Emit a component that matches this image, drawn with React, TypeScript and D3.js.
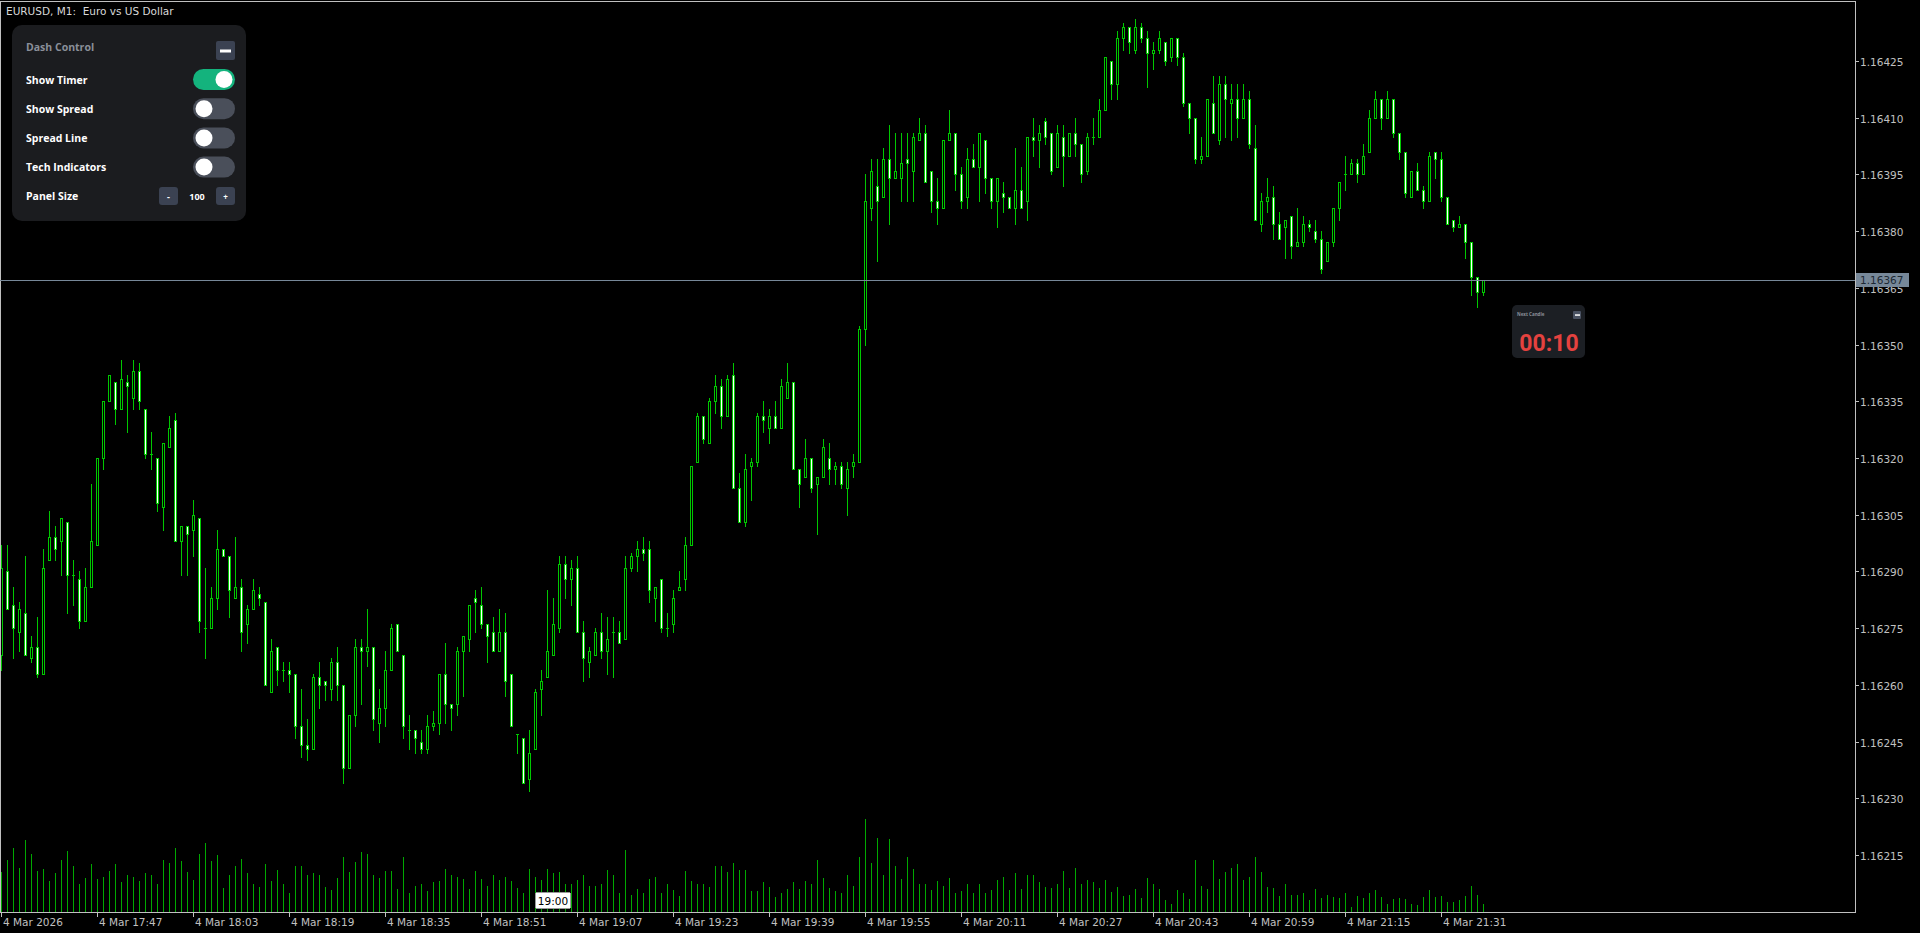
import React from 'react';
import * as d3 from 'd3';

const W = 1920;
const H = 933;

// EURUSD M1 bars, 4 Mar 17:31 .. 21:38
const OPEN = [1.16268,1.1629,1.16281,1.16274,1.16279,1.16267,1.1627,1.16263,1.16293,1.16299,1.16298,1.16303,1.16289,1.16288,1.16277,1.16286,1.16297,1.1632,1.16335,1.1634,1.16333,1.1634,1.16336,1.16343,1.16333,1.16321,1.1632,1.16307,1.16323,1.1633,1.16298,1.16302,1.16301,1.16304,1.16275,1.16275,1.16283,1.16296,1.16294,1.16283,1.16286,1.16276,1.1628,1.16284,1.16282,1.16258,1.1627,1.16264,1.16264,1.16263,1.16249,1.16244,1.16243,1.16262,1.16261,1.16259,1.16266,1.1626,1.16238,1.16252,1.1627,1.16269,1.1627,1.1625,1.16254,1.16264,1.16276,1.16268,1.16248,1.16248,1.16245,1.16243,1.16249,1.1625,1.16263,1.16255,1.16255,1.16269,1.16272,1.16283,1.16281,1.16276,1.16274,1.16269,1.16274,1.16263,1.16247,1.16246,1.16235,1.16243,1.16259,1.16262,1.16268,1.16275,1.16292,1.16288,1.16291,1.16274,1.16266,1.16268,1.16274,1.16269,1.16274,1.16274,1.16272,1.16291,1.16294,1.16296,1.16296,1.16283,1.16288,1.16275,1.16276,1.16285,1.16288,1.16297,1.16319,1.16331,1.16324,1.16335,1.16339,1.16331,1.16342,1.16312,1.16303,1.16318,1.16319,1.16331,1.16328,1.16331,1.16328,1.16336,1.1634,1.16317,1.16315,1.1632,1.16313,1.16315,1.1632,1.16317,1.16318,1.16312,1.16318,1.16319,1.16354,1.16386,1.16392,1.16389,1.16399,1.16394,1.16394,1.16399,1.16396,1.16404,1.16406,1.16396,1.16388,1.16386,1.16404,1.16406,1.16395,1.16389,1.16399,1.16397,1.16404,1.16394,1.16388,1.1639,1.16389,1.16386,1.16391,1.16388,1.16405,1.16404,1.16409,1.16406,1.16397,1.16405,1.164,1.16406,1.16403,1.16396,1.16405,1.16405,1.16412,1.16425,1.16419,1.16431,1.16434,1.16428,1.16434,1.16431,1.16427,1.16428,1.1643,1.16426,1.16431,1.16426,1.16414,1.1641,1.16399,1.164,1.16414,1.16404,1.16419,1.16414,1.16415,1.1641,1.16415,1.16402,1.16382,1.16388,1.16389,1.16382,1.16381,1.16384,1.16376,1.16377,1.16382,1.1638,1.16378,1.16372,1.16377,1.16386,1.16395,1.16395,1.16398,1.16395,1.16401,1.1641,1.16415,1.1641,1.16415,1.16406,1.16401,1.16389,1.16396,1.16391,1.16388,1.16401,1.16399,1.16389,1.16383,1.16381,1.16382,1.16377,1.16368,1.16364];
const HIGH = [1.16297,1.16297,1.16286,1.16282,1.16294,1.16273,1.16278,1.16296,1.16306,1.16302,1.16304,1.16303,1.16293,1.1629,1.16291,1.16313,1.1632,1.16335,1.16342,1.1634,1.16346,1.16342,1.16346,1.16345,1.16333,1.16327,1.1632,1.16324,1.16331,1.16332,1.16302,1.16302,1.16309,1.16304,1.16291,1.16286,1.16301,1.16296,1.16294,1.16299,1.16288,1.16281,1.16288,1.16286,1.16282,1.16272,1.1627,1.16266,1.16266,1.16263,1.16259,1.16251,1.16263,1.16266,1.16261,1.16267,1.1627,1.1626,1.16252,1.16272,1.16272,1.1628,1.1627,1.16259,1.16269,1.16276,1.16276,1.16268,1.16252,1.16248,1.16248,1.16252,1.16253,1.16263,1.16271,1.16255,1.1627,1.16273,1.16281,1.16285,1.16286,1.16276,1.16278,1.1628,1.16279,1.16263,1.16247,1.16246,1.16248,1.16259,1.16264,1.16285,1.16283,1.16294,1.16294,1.16293,1.16294,1.16277,1.1627,1.16275,1.16279,1.16278,1.16278,1.16277,1.16294,1.16295,1.16298,1.16299,1.16298,1.16286,1.16288,1.16279,1.16285,1.1629,1.16299,1.16318,1.16332,1.16331,1.16336,1.16342,1.16341,1.16342,1.16345,1.16316,1.16321,1.1632,1.16332,1.16335,1.16333,1.16335,1.16341,1.16345,1.1634,1.16317,1.16325,1.1632,1.16315,1.16325,1.16324,1.16319,1.16319,1.16319,1.16321,1.16355,1.16395,1.16399,1.16399,1.16402,1.16408,1.16406,1.16406,1.16406,1.16406,1.1641,1.16408,1.16396,1.16394,1.16404,1.16412,1.16406,1.16397,1.16402,1.16403,1.16406,1.16404,1.16394,1.16394,1.16393,1.16389,1.16402,1.16397,1.16405,1.1641,1.16408,1.1641,1.16406,1.16408,1.16408,1.16406,1.1641,1.16403,1.16406,1.1641,1.16415,1.16426,1.16425,1.16433,1.16435,1.16434,1.16436,1.16435,1.16433,1.1643,1.16433,1.1643,1.16431,1.16431,1.16427,1.16414,1.1641,1.16405,1.16415,1.16421,1.16421,1.16421,1.16419,1.16419,1.16419,1.16417,1.16408,1.1639,1.16394,1.16392,1.16385,1.16383,1.16384,1.16386,1.16384,1.16383,1.16383,1.1638,1.16377,1.16386,1.16393,1.164,1.16399,1.16399,1.16403,1.16412,1.16417,1.16415,1.16417,1.16415,1.16406,1.16401,1.16396,1.16398,1.16392,1.16401,1.16401,1.16401,1.16389,1.16383,1.16384,1.16382,1.16377,1.16368,1.16367];
const LOW = [1.16264,1.1628,1.16267,1.16269,1.16268,1.16266,1.16262,1.16263,1.16293,1.16293,1.16289,1.16279,1.16281,1.16275,1.16277,1.16286,1.16297,1.16317,1.16335,1.16329,1.16333,1.16327,1.16333,1.16333,1.1632,1.16317,1.16306,1.16301,1.16323,1.16298,1.16289,1.16289,1.16294,1.16274,1.16267,1.16275,1.1628,1.16294,1.16278,1.16283,1.16269,1.16271,1.1628,1.16281,1.1626,1.16258,1.1626,1.16261,1.16258,1.16246,1.16241,1.1624,1.16243,1.16254,1.16256,1.16256,1.16256,1.16234,1.16238,1.16249,1.16255,1.16265,1.16248,1.16245,1.16249,1.16264,1.16269,1.16246,1.16243,1.16242,1.16242,1.16242,1.16248,1.16247,1.1625,1.16248,1.16252,1.16257,1.16269,1.16274,1.16275,1.16266,1.16269,1.16269,1.16257,1.16249,1.16242,1.16234,1.16232,1.16243,1.16252,1.16262,1.16268,1.16274,1.16283,1.16281,1.16274,1.16261,1.16262,1.16268,1.16267,1.16263,1.16262,1.16271,1.16272,1.1629,1.1629,1.16293,1.16282,1.16277,1.16274,1.16273,1.16274,1.16285,1.16285,1.16297,1.16319,1.16324,1.16324,1.16332,1.16328,1.16331,1.16312,1.16303,1.16302,1.16309,1.16318,1.16327,1.16324,1.16328,1.16328,1.16336,1.16317,1.16307,1.16315,1.16311,1.163,1.16315,1.16313,1.16313,1.16312,1.16305,1.16315,1.16319,1.1635,1.16383,1.16372,1.16389,1.16382,1.16394,1.16388,1.16388,1.16388,1.16404,1.16393,1.16385,1.16382,1.16386,1.16404,1.16391,1.16386,1.16386,1.16397,1.16388,1.1639,1.16386,1.16381,1.16385,1.16386,1.16382,1.16386,1.16383,1.164,1.16397,1.16403,1.16395,1.16397,1.16392,1.164,1.164,1.16393,1.16395,1.16403,1.16405,1.16412,1.16415,1.16415,1.16428,1.16427,1.16427,1.1643,1.16418,1.16423,1.16427,1.16424,1.16425,1.16424,1.16413,1.16406,1.16398,1.16398,1.164,1.16406,1.16403,1.16405,1.16404,1.16405,1.1641,1.16402,1.16383,1.1638,1.16385,1.16378,1.16378,1.16373,1.16373,1.16376,1.16376,1.1638,1.16377,1.16369,1.16372,1.16376,1.16383,1.16391,1.16395,1.16393,1.16395,1.16401,1.1641,1.16407,1.1641,1.16405,1.16399,1.16389,1.16389,1.16391,1.16386,1.16388,1.16394,1.16388,1.16382,1.1638,1.16381,1.16373,1.16363,1.1636,1.16363];
const CLOSE = [1.16291,1.1628,1.16275,1.1628,1.16268,1.1627,1.16263,1.16291,1.16299,1.16296,1.16304,1.16289,1.16289,1.16277,1.16286,1.16298,1.1632,1.16335,1.16342,1.16333,1.16341,1.16339,1.16343,1.16335,1.16321,1.16321,1.16308,1.16324,1.16328,1.16298,1.16302,1.163,1.16305,1.16277,1.16275,1.16283,1.16296,1.16294,1.16285,1.16286,1.16274,1.1628,1.16285,1.16283,1.1626,1.16269,1.16264,1.16264,1.16263,1.16249,1.16244,1.16243,1.16262,1.1626,1.1626,1.16266,1.1626,1.16238,1.16252,1.1627,1.16269,1.1627,1.16251,1.16254,1.16264,1.16275,1.16269,1.16249,1.16248,1.16246,1.16243,1.16249,1.1625,1.16263,1.16255,1.16254,1.16269,1.16273,1.16281,1.16282,1.16276,1.16273,1.16269,1.16274,1.16261,1.16249,1.16247,1.16234,1.16242,1.16258,1.16261,1.16269,1.16276,1.16292,1.16288,1.16291,1.16274,1.16267,1.16269,1.16274,1.16269,1.16272,1.16274,1.16271,1.16291,1.16294,1.16296,1.16295,1.16285,1.16286,1.16275,1.16275,1.16283,1.16286,1.16297,1.16318,1.16331,1.16325,1.16335,1.16339,1.16331,1.16341,1.16312,1.16303,1.16317,1.16319,1.16331,1.1633,1.16331,1.16328,1.16339,1.1634,1.16317,1.16313,1.1632,1.16312,1.16315,1.16323,1.16317,1.16318,1.16313,1.16317,1.16319,1.16354,1.16388,1.16396,1.16388,1.16399,1.16394,1.16396,1.16398,1.16398,1.16405,1.16406,1.16393,1.16388,1.16386,1.16404,1.16406,1.16395,1.16388,1.16399,1.16397,1.16406,1.16394,1.16388,1.16394,1.16389,1.16386,1.16391,1.16386,1.16405,1.16404,1.16406,1.16405,1.16396,1.16406,1.164,1.16406,1.16403,1.16395,1.16405,1.16405,1.16412,1.16426,1.16419,1.16431,1.16434,1.1643,1.16434,1.16431,1.16427,1.16428,1.16431,1.16425,1.16431,1.16426,1.16414,1.1641,1.16399,1.164,1.16415,1.16406,1.16419,1.16415,1.16415,1.1641,1.16415,1.16403,1.16383,1.16388,1.16389,1.16382,1.16378,1.16383,1.16376,1.16377,1.16382,1.16381,1.16378,1.1637,1.16377,1.16386,1.16393,1.16395,1.16398,1.16395,1.164,1.1641,1.16415,1.1641,1.16415,1.16406,1.16401,1.1639,1.16396,1.16391,1.16388,1.164,1.16399,1.16389,1.16382,1.16381,1.16382,1.16377,1.16368,1.16364,1.16367];
const VOLUME = [120,156,191,132,215,173,123,130,92,117,156,183,137,85,103,144,99,105,123,143,89,112,105,93,117,111,84,156,147,191,153,121,96,173,207,153,171,72,112,139,160,117,84,76,144,93,126,84,58,139,139,112,117,111,75,65,103,166,119,150,180,173,112,102,123,123,70,165,58,79,84,63,90,93,130,112,106,99,70,123,99,79,111,96,106,93,72,58,130,106,96,130,117,119,84,84,96,111,79,79,85,126,112,58,186,52,70,58,99,105,58,84,66,49,123,93,85,84,76,139,139,119,147,126,126,63,63,90,76,45,58,69,90,69,92,84,157,103,72,63,57,111,78,166,278,147,222,111,218,139,99,165,130,84,84,66,93,78,103,57,63,85,57,85,57,66,96,105,66,117,69,111,111,90,76,72,84,123,72,132,84,96,90,72,96,60,76,48,51,69,42,103,84,69,36,24,65,57,38,157,78,69,157,99,119,132,144,96,105,166,119,75,72,48,85,51,51,57,36,69,42,51,45,42,57,15,48,42,57,65,45,24,38,42,38,24,21,45,65,45,48,30,30,36,48,78,51,24];

const PRICE_TICKS = [1.16425,1.1641,1.16395,1.1638,1.16365,1.1635,1.16335,1.1632,1.16305,1.1629,1.16275,1.1626,1.16245,1.1623,1.16215];
const TIME_LABEL_BARS = [0,16,32,48,64,80,96,112,128,144,160,176,192,208,224,240];
const TIME_LABELS = ['4 Mar 2026','4 Mar 17:47','4 Mar 18:03','4 Mar 18:19','4 Mar 18:35','4 Mar 18:51','4 Mar 19:07','4 Mar 19:23','4 Mar 19:39','4 Mar 19:55','4 Mar 20:11','4 Mar 20:27','4 Mar 20:43','4 Mar 20:59','4 Mar 21:15','4 Mar 21:31'];
const LAST_PRICE = 1.16367;
const CURSOR_BAR = 89;
const CURSOR_LABEL = '19:00';
const TITLE = 'EURUSD, M1:  Euro vs US Dollar';
const PANEL_ROWS = ['Show Timer','Show Spread','Spread Line','Tech Indicators'];
const PANEL_ON = [true,false,false,false];

const PLOT_R = 1855;
const PLOT_B = 912;
const GREEN = '#00c800';
const VOL_GREEN = '#00a800';
const AXIS = '#c0c0c0';
const FONT = '"DejaVu Sans", Tahoma, sans-serif';
const UI_FONT = '"Open Sans", "Noto Sans", sans-serif';

export default function App() {
  const x = d3.scaleLinear().domain([0, OPEN.length - 1]).range([1.5, 1.5 + 6 * (OPEN.length - 1)]);
  const y = d3.scaleLinear().domain([1.16215, 1.16425]).range([855, 61]);
  const yv = d3.scaleLinear().domain([0, 300]).range([PLOT_B, PLOT_B - 100]);

  const candles = OPEN.map((o, i) => {
    const c = CLOSE[i];
    const cx = Math.round(x(i) - 0.5) + 0.5;
    const yH = Math.round(y(HIGH[i]));
    const yL = Math.round(y(LOW[i]));
    const yT = Math.round(y(Math.max(o, c)));
    const yB = Math.round(y(Math.min(o, c)));
    const bull = c > o;
    const doji = yB - yT < 1;
    return (
      <g key={i}>
        <line x1={cx} x2={cx} y1={yH} y2={yL + 1} stroke={GREEN} strokeWidth={1} />
        {doji ? (
          <line x1={cx - 1.5} x2={cx + 1.5} y1={yT + 0.5} y2={yT + 0.5} stroke={GREEN} strokeWidth={1} />
        ) : (
          <rect x={cx - 1} y={yT + 0.5} width={2} height={yB - yT} fill={bull ? '#000' : '#fff'} stroke={GREEN} strokeWidth={1} />
        )}
      </g>
    );
  });

  const vols = VOLUME.map((v, i) => {
    const cx = Math.round(x(i) - 0.5) + 0.5;
    return <line key={i} x1={cx} x2={cx} y1={PLOT_B} y2={Math.round(yv(v))} stroke={VOL_GREEN} strokeWidth={1} />;
  });

  const yLast = Math.round(y(LAST_PRICE)) + 0.5;
  const cursorX = Math.round(x(CURSOR_BAR) - 0.5);

  return (
    <svg width={W} height={H} style={{ display: 'block', position: 'absolute', left: 0, top: 0, background: '#000' }} shapeRendering="crispEdges">
      <rect x={0} y={0} width={W} height={H} fill="#000" />
      <g>{vols}</g>
      <g>{candles}</g>
      {/* frame */}
      <line x1={0.5} x2={0.5} y1={1} y2={PLOT_B} stroke={AXIS} />
      <line x1={0} x2={PLOT_R} y1={1.5} y2={1.5} stroke={AXIS} />
      <line x1={PLOT_R + 0.5} x2={PLOT_R + 0.5} y1={1} y2={PLOT_B + 1} stroke={AXIS} />
      <line x1={0} x2={PLOT_R + 1} y1={PLOT_B + 0.5} y2={PLOT_B + 0.5} stroke={AXIS} />
      {/* last price line */}
      <line x1={0} x2={PLOT_R} y1={yLast} y2={yLast} stroke="#778899" />
      {/* price axis */}
      {PRICE_TICKS.map((p) => {
        const yy = Math.round(y(p)) + 0.5;
        return (
          <g key={p}>
            <line x1={PLOT_R} x2={PLOT_R + 4} y1={yy} y2={yy} stroke={AXIS} />
            <text x={PLOT_R + 5} y={yy} dominantBaseline="central" fill={AXIS} fontFamily={FONT} fontSize={10.5} shapeRendering="auto">{p.toFixed(5)}</text>
          </g>
        );
      })}
      <rect x={PLOT_R + 1} y={yLast - 8} width={53} height={14} fill="#778899" />
      <text x={PLOT_R + 5} y={yLast - 1} dominantBaseline="central" fill="#1c2833" fontFamily={FONT} fontSize={10.5}>{LAST_PRICE.toFixed(5)}</text>
      {/* time axis */}
      {TIME_LABEL_BARS.map((b, k) => {
        const cx = Math.round(x(b) - 0.5) + 0.5;
        return (
          <g key={b}>
            <line x1={cx} x2={cx} y1={PLOT_B} y2={PLOT_B + 5} stroke={AXIS} />
            <text x={cx + 1.5} y={922} dominantBaseline="central" fill={AXIS} fontFamily={FONT} fontSize={10.5}>{TIME_LABELS[k]}</text>
          </g>
        );
      })}
      <rect x={cursorX + 0.5} y={892.5} width={35} height={16} rx={2} fill="#fff" stroke="#999" />
      <text x={cursorX + 18} y={901} textAnchor="middle" dominantBaseline="central" fill="#000" fontFamily={FONT} fontSize={10.5}>{CURSOR_LABEL}</text>
      {/* title */}
      <text x={6} y={11} dominantBaseline="central" fill="#d8d8d8" fontFamily={FONT} fontSize={10.5} style={{ whiteSpace: 'pre' }}>{TITLE}</text>
      {/* dash control panel */}
      <g shapeRendering="auto">
        <rect x={12} y={25} width={234} height={196} rx={10} fill="#1b1c1f" />
        <text x={26} y={47} dominantBaseline="central" fill="#8a8f99" fontFamily={UI_FONT} fontWeight={700} fontSize={10.5}>Dash Control</text>
        <rect x={216} y={41} width={19} height={19} rx={2} fill="#3b4252" />
        <rect x={220} y={49.5} width={11} height={3} fill="#fff" />
        {PANEL_ROWS.map((r, k) => {
          const cy = 79.5 + k * 29.2;
          const on = PANEL_ON[k];
          return (
            <g key={r}>
              <text x={26} y={cy} dominantBaseline="central" fill="#fff" fontFamily={UI_FONT} fontWeight={700} fontSize={10.5}>{r}</text>
              <rect x={193} y={cy - 10.5} width={42} height={21} rx={10.5} fill={on ? '#14b37d' : '#4a4f5a'} />
              <circle cx={on ? 224 : 204} cy={cy} r={8.5} fill="#fff" />
            </g>
          );
        })}
        <text x={26} y={196} dominantBaseline="central" fill="#fff" fontFamily={UI_FONT} fontWeight={700} fontSize={10.5}>Panel Size</text>
        <rect x={159} y={187} width={19} height={18} rx={3} fill="#3b4252" />
        <text x={168.5} y={196} textAnchor="middle" dominantBaseline="central" fill="#fff" fontFamily={UI_FONT} fontWeight={700} fontSize={9}>-</text>
        <text x={197} y={196} textAnchor="middle" dominantBaseline="central" fill="#fff" fontFamily={UI_FONT} fontWeight={700} fontSize={9}>100</text>
        <rect x={216} y={187} width={19} height={18} rx={3} fill="#3b4252" />
        <text x={225.5} y={196} textAnchor="middle" dominantBaseline="central" fill="#fff" fontFamily={UI_FONT} fontWeight={700} fontSize={8}>+</text>
      </g>
      {/* timer panel */}
      <g shapeRendering="auto">
        <rect x={1512} y={305} width={73} height={53} rx={5} fill="#1c1f24" />
        <text x={1517} y={313.5} dominantBaseline="central" fill="#8a8f99" fontFamily={UI_FONT} fontWeight={700} fontSize={4.5}>Next Candle</text>
        <rect x={1573} y={311} width={8} height={8} rx={1} fill="#4a5262" />
        <rect x={1575} y={314.3} width={5} height={1.5} fill="#fff" />
        <text x={1549} y={343} textAnchor="middle" dominantBaseline="central" fill="#e5423f" fontFamily="Roboto, sans-serif" fontWeight={700} fontSize={23}>00:10</text>
      </g>
    </svg>
  );
}
